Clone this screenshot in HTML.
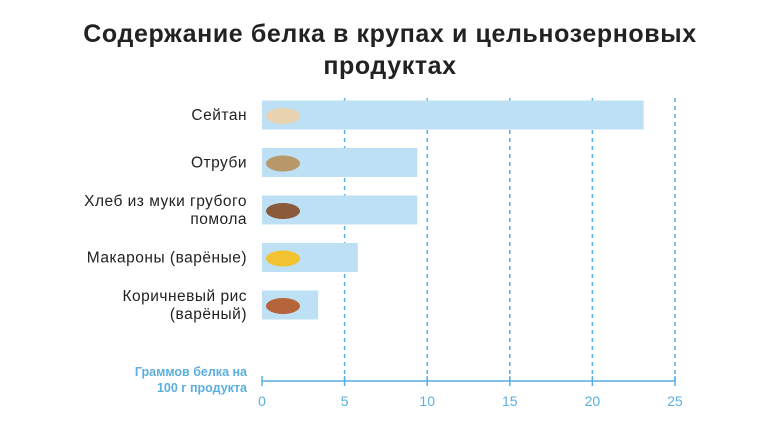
<!DOCTYPE html>
<html><head><meta charset="utf-8"><style>
body{margin:0;background:#fff;width:780px;height:439px;overflow:hidden;font-family:"Liberation Sans",sans-serif}
</style></head><body>
<svg width="780" height="439">
<text x="390" y="42" text-anchor="middle" font-size="25" letter-spacing="0.6" font-weight="bold" fill="#222">Содержание белка в крупах и цельнозерновых</text>
<text x="390" y="74" text-anchor="middle" font-size="25" letter-spacing="0.6" font-weight="bold" fill="#222">продуктах</text>
<g id="grid"></g><g id="bars"></g><g id="axis"></g>
<text x="247" y="376" text-anchor="end" font-size="12.5" font-weight="bold" fill="#5aaee0">Граммов белка на</text>
<text x="247" y="392" text-anchor="end" font-size="12.5" font-weight="bold" fill="#5aaee0">100 г продукта</text>
</svg>
<script>
const categories=[["Сейтан"],["Отруби"],["Хлеб из муки грубого","помола"],["Макароны (варёные)"],["Коричневый рис","(варёный)"]];
const values=[23.1,9.4,9.4,5.8,3.4];
const ticks=[0,5,10,15,20,25];
const iconColors=["#e8d2b0","#b8986a","#8a5a3a","#f2c230","#b5653a"];
const NS="http://www.w3.org/2000/svg";
const x=v=>262+v*16.52;
const yc=i=>115+i*47.5;
function mk(t,a,p){const e=document.createElementNS(NS,t);for(const k in a)e.setAttribute(k,a[k]);p.appendChild(e);return e;}
const grid=document.getElementById('grid'),bars=document.getElementById('bars'),axis=document.getElementById('axis');
ticks.forEach(t=>{
 if(t>0){const g=mk('line',{x1:x(t),x2:x(t),y1:98,y2:381,stroke:'#5aaee0','stroke-width':1.5,'stroke-dasharray':'4,4'},grid);
 
 }
 const tk=mk('line',{x1:x(t),x2:x(t),y1:376,y2:386,stroke:'#5aaee0','stroke-width':1.5},axis);
 
 
 const l=mk('text',{x:x(t),y:406,'text-anchor':'middle','font-size':14,fill:'#5aaee0'},axis);l.textContent=t;
 
 
});
const al=mk('line',{x1:262,x2:x(25),y1:381,y2:381,stroke:'#5aaee0','stroke-width':1.5},axis);


values.forEach((v,i)=>{
 const b=mk('rect',{x:262,y:yc(i)-14.5,width:x(v)-262,height:29,fill:'#bde0f5'},bars);
 
 
 const ic=mk('ellipse',{cx:283,cy:yc(i)+1,rx:17,ry:8,fill:iconColors[i]},bars);
 
 
 const lines=categories[i];
 lines.forEach((s,j)=>{
  const t=mk('text',{x:247,y:yc(i)+5+(j-(lines.length-1)/2)*18,'text-anchor':'end','font-size':15.5,'letter-spacing':0.5,fill:'#222'},bars);
  t.textContent=s;
  
  
 });
});
</script>
</body></html>
